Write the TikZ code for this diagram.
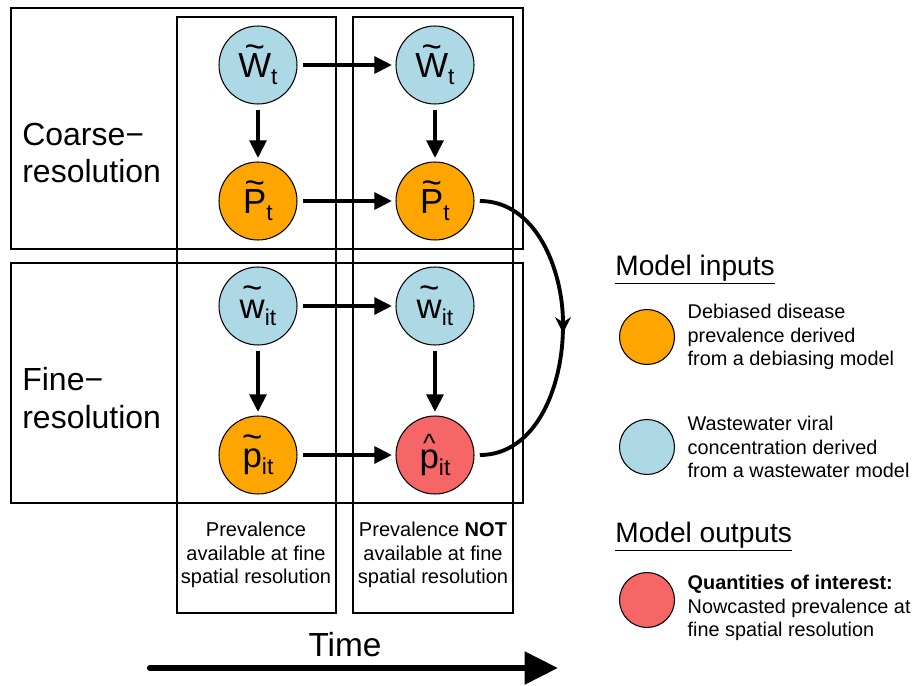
\documentclass[tikz,border=0pt]{standalone}
\usepackage{fontspec}
\setmainfont{Liberation Sans}
\usepackage{tikz}
\usetikzlibrary{arrows.meta,positioning,calc}
\definecolor{wwblue}{RGB}{173,216,230}
\definecolor{prevorange}{RGB}{255,165,0}
\definecolor{nowred}{RGB}{246,102,102}
% accents drawn over a letter, subscripts lowered
\newcommand{\tld}[1]{\setbox0\hbox{#1}\rlap{\hbox to\wd0{\hss\raisebox{10.8pt}{\char"7E}\hss}}\box0}
\newcommand{\hatc}[1]{\setbox0\hbox{#1}\rlap{\hbox to\wd0{\hss\raisebox{9.2pt}{\fontsize{15}{15}\selectfont\char"5E}\hss}}\box0}
\newcommand{\lsub}[1]{\raisebox{-4pt}{\fontsize{13}{13}\selectfont #1}}

\begin{document}
\begin{tikzpicture}[x=0.02cm, y=-0.02cm,
    var/.style={circle, draw, line width=0.6pt, minimum size=1.56cm, inner sep=0pt, font=\fontsize{19.8}{20}\selectfont},
    key/.style={circle, draw, line width=0.6pt, minimum size=1.1cm, inner sep=0pt},
    frame/.style={draw, line width=0.7pt},
    link/.style={line width=2.2pt, -{Triangle[length=10pt,width=9.5pt]}, shorten <=3pt, shorten >=2pt},
    note/.style={align=center, inner sep=0pt, font=\fontsize{11.4}{13.2}\selectfont},
    keytext/.style={align=left, inner sep=0pt, font=\fontsize{11.3}{13.2}\selectfont},
    rowlabel/.style={align=left, anchor=west, inner sep=0pt, font=\fontsize{18.2}{21.5}\selectfont},
    head/.style={anchor=west, inner xsep=0pt, inner ysep=1pt, font=\fontsize{16}{18}\selectfont}]
    \useasboundingbox (0,0) rectangle (916,686);

    % resolution rows and time columns
    \draw[frame] (11,8) rectangle (523,249);
    \draw[frame] (11,263) rectangle (523,503);
    \draw[frame] (177,17) rectangle (336,613);
    \draw[frame] (353,17) rectangle (513,613);

    \node[rowlabel] (coarse) at (22,153) {Coarse−\\resolution};
    \node[rowlabel] (fine) at (22,398) {Fine−\\resolution};

    % variables
    \node[var, fill=wwblue] (W1) at (258,65) {\tld{W}\lsub{t}};
    \node[var, fill=wwblue] (W2) at (435,65) {\tld{W}\lsub{t}};
    \node[var, fill=prevorange] (P1) at (258,201) {\tld{P}\lsub{t}};
    \node[var, fill=prevorange] (P2) at (435,201) {\tld{P}\lsub{t}};
    \node[var, fill=wwblue] (w1) at (258,306) {\tld{w}\lsub{it}};
    \node[var, fill=wwblue] (w2) at (435,306) {\tld{w}\lsub{it}};
    \node[var, fill=prevorange] (p1) at (258,455) {\tld{p}\lsub{it}};
    \node[var, fill=nowred] (p2) at (435,455) {\hatc{p}\lsub{it}};

    \foreach \a/\b in {W1/W2, P1/P2, w1/w2, p1/p2, W1/P1, W2/P2, w1/p1, w2/p2}
        \draw[link] (\a) -- (\b);

    \coordinate (bend) at (563,333);
    \draw[line width=2.2pt, shorten <=3pt, -{Stealth[length=9pt,width=9pt]}] (P2.east) to[out=0, in=90] (bend);
    \draw[line width=2.2pt, shorten >=3pt] ([yshift=4pt]bend) to[out=-90, in=0] (p2.east);

    % column notes and time axis
    \node[note] (avail) at (256,555) {Prevalence\\available at fine\\spatial resolution};
    \node[note] (notavail) at (433,555) {Prevalence \textbf{NOT}\\available at fine\\spatial resolution};

    \node[font=\fontsize{19}{19}\selectfont] (time) at (345,645) {Time};
    \coordinate (t0) at (150,668);
    \coordinate (t1) at (558,668);
    \draw[line width=3.6pt, line cap=round, -{Triangle[length=19pt,width=18pt]}] (t0) -- (t1);

    % legend
    \node[head] (inputs) at (615,268) {Model inputs};
    \draw[line width=0.8pt] (inputs.south west) -- (inputs.south east);
    \node[key, fill=prevorange] (kP) at (647,337) {};
    \node[keytext, right=7pt of kP] (kPtext) {Debiased disease\\prevalence derived\\from a debiasing model};
    \node[key, fill=wwblue] (kW) at (647,447) {};
    \node[keytext, right=7pt of kW] (kWtext) {Wastewater viral\\concentration derived\\from a wastewater model};

    \node[head] (outputs) at (615,535) {Model outputs};
    \draw[line width=0.8pt] (outputs.south west) -- (outputs.south east);
    \node[key, fill=nowred] (kQ) at (647,600) {};
    \node[keytext, right=7pt of kQ, yshift=-4.5pt] (kQtext) {\textbf{Quantities of interest:}\\Nowcasted prevalence at\\fine spatial resolution};
\end{tikzpicture}
\end{document}
